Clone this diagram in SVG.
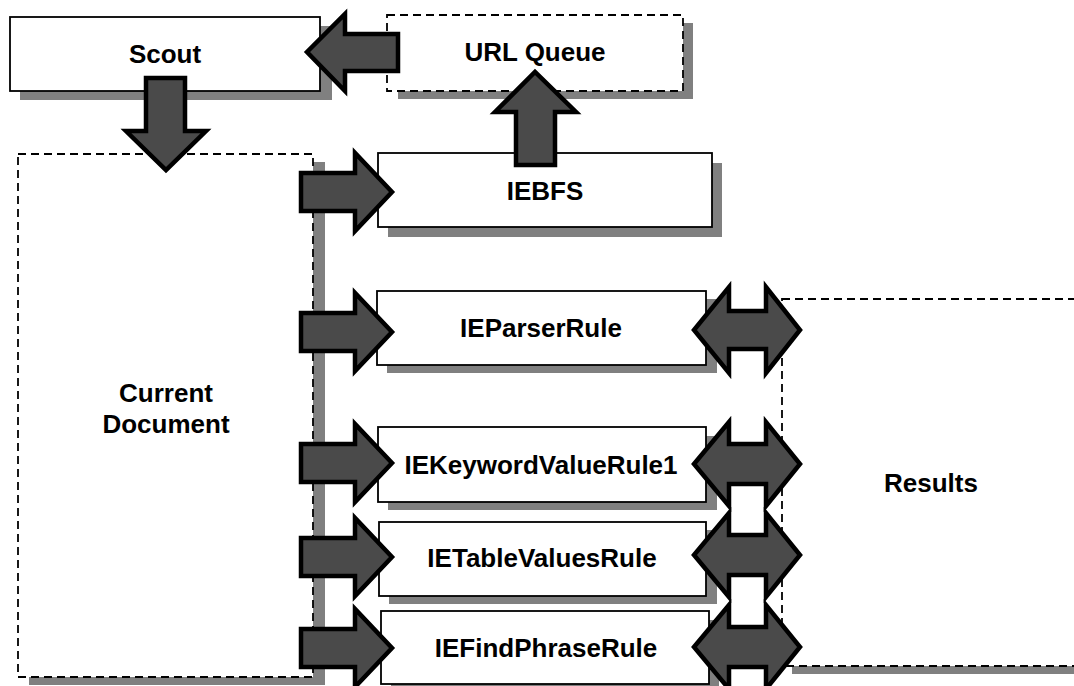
<svg xmlns="http://www.w3.org/2000/svg" width="1074" height="686" viewBox="0 0 1074 686">
  <style>
    .shadow { fill: #808080; stroke: none; }
    .box { fill: #ffffff; stroke: #000000; stroke-width: 1.8; }
    .dash { fill: #ffffff; stroke: #000000; stroke-width: 1.8; stroke-dasharray: 8 5; }
    .label { font-family: "Liberation Sans", Arial, sans-serif; font-weight: bold; font-size: 26px; fill: #000000; text-anchor: middle; }
    .arrow { fill: #4a4a4a; stroke: #000000; stroke-width: 4.5; stroke-linejoin: miter; }
  </style>
  <rect width="1074" height="686" fill="#ffffff"/>

  <!-- containers -->
  <g id="current-document">
    <rect class="shadow" x="29" y="162" width="296" height="523"/>
    <rect class="dash" x="18" y="154" width="295" height="523"/>
    <text class="label" x="166" y="402">Current</text>
    <text class="label" x="166" y="433">Document</text>
  </g>
  <g id="results">
    <rect class="shadow" x="792" y="307" width="300" height="367"/>
    <rect class="dash" x="782" y="299" width="310" height="367"/>
    <text class="label" x="931" y="492">Results</text>
  </g>

  <!-- process nodes -->
  <g id="scout">
    <rect class="shadow" x="20" y="26" width="312" height="74"/>
    <rect class="box" x="10" y="17" width="310" height="74"/>
    <text class="label" x="165" y="63">Scout</text>
  </g>
  <g id="url-queue">
    <rect class="shadow" x="398" y="23" width="295" height="76"/>
    <rect class="dash" x="387" y="15" width="296" height="76"/>
    <text class="label" x="535" y="61">URL Queue</text>
  </g>
  <g id="iebfs">
    <rect class="shadow" x="388" y="163" width="334" height="74"/>
    <rect class="box" x="378" y="153" width="334" height="74"/>
    <text class="label" x="545" y="200">IEBFS</text>
  </g>
  <g id="ieparserrule">
    <rect class="shadow" x="387" y="299" width="330" height="74"/>
    <rect class="box" x="377" y="291" width="329" height="74"/>
    <text class="label" x="541" y="337">IEParserRule</text>
  </g>
  <g id="iekeywordvaluerule1">
    <rect class="shadow" x="388" y="436" width="329" height="74"/>
    <rect class="box" x="378" y="427" width="328" height="75"/>
    <text class="label" x="541" y="474">IEKeywordValueRule1</text>
  </g>
  <g id="ietablevaluesrule">
    <rect class="shadow" x="389" y="530" width="328" height="74"/>
    <rect class="box" x="379" y="522" width="327" height="74"/>
    <text class="label" x="542" y="567">IETableValuesRule</text>
  </g>
  <g id="iefindphraserule">
    <rect class="shadow" x="391" y="620" width="328" height="74"/>
    <rect class="box" x="381" y="611" width="328" height="73"/>
    <text class="label" x="546" y="657">IEFindPhraseRule</text>
  </g>

  <!-- block arrows -->
  <g id="connectors">
    <!-- URL Queue to Scout -->
    <path class="arrow" d="M398,34 L345,34 L345,14 L307,52 L345,91 L345,71 L398,71 Z"/>
    <!-- Scout to Current Document -->
    <path class="arrow" d="M146,78 L185,78 L185,131 L206,131 L166,170 L126,131 L146,131 Z"/>
    <!-- IEBFS to URL Queue -->
    <path class="arrow" d="M516,165 L555,165 L555,112 L576,112 L535,72 L495,112 L516,112 Z"/>

    <!-- Current Document to rules -->
    <path class="arrow" d="M301,173 L355,173 L355,153 L392,192 L355,231 L355,211 L301,211 Z"/>
    <path class="arrow" d="M301,313 L355,313 L355,293 L392,332 L355,371 L355,351 L301,351 Z"/>
    <path class="arrow" d="M301,444 L355,444 L355,424 L392,463 L355,502 L355,482 L301,482 Z"/>
    <path class="arrow" d="M301,538 L355,538 L355,518 L392,557 L355,596 L355,576 L301,576 Z"/>
    <path class="arrow" d="M301,629 L355,629 L355,609 L392,648 L355,687 L355,667 L301,667 Z"/>

    <!-- rules to and from Results -->
    <path class="arrow" d="M694,330 L729,287 L729,311 L766,311 L766,287 L800,330 L766,373 L766,349 L729,349 L729,373 Z"/>
    <path class="arrow" d="M694,464 L729,422 L729,444 L766,444 L766,422 L800,464 L766,506 L766,484 L729,484 L729,506 Z"/>
    <path class="arrow" d="M694,555 L729,513 L729,535 L766,535 L766,513 L800,555 L766,597 L766,575 L729,575 L729,597 Z"/>
    <path class="arrow" d="M694,647 L729,605 L729,627 L766,627 L766,605 L800,647 L766,689 L766,667 L729,667 L729,689 Z"/>
  </g>
</svg>
